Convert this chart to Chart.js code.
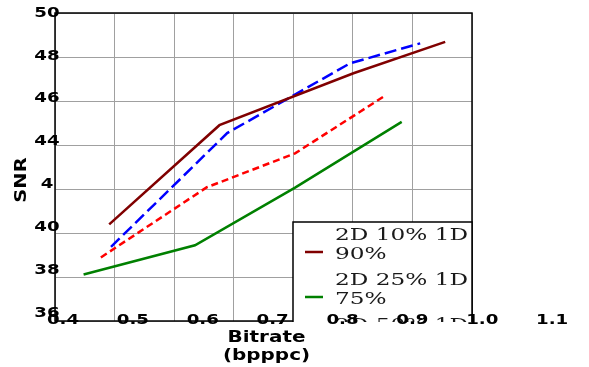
<!DOCTYPE html>
<html>
<head>
<meta charset="utf-8">
<script src="https://cdn.jsdelivr.net/npm/chart.js@4/dist/chart.umd.min.js"></script>
<style>
  html, body { margin: 0; padding: 0; background: #fff; }
  #c { display: block; }
</style>
</head>
<body>
<canvas id="c" width="589" height="367"></canvas>
<script>
// ---- data ----
const seriesLabels = ["2D 10% 1D 90%", "2D 25% 1D 75%", "2D 50% 1D 50%", "2D 75% 1D 25%"];
const darkRedX = [0.491, 0.676, 0.901, 1.055];
const darkRedY = [40.39, 44.90, 47.26, 48.69];
const greenX   = [0.448, 0.635, 0.803, 0.982];
const greenY   = [38.11, 39.44, 42.06, 45.05];
const blueX    = [0.494, 0.689, 0.895, 1.013];
const blueY    = [39.37, 44.54, 47.71, 48.62];
const redX     = [0.477, 0.655, 0.803, 0.954];
const redY     = [38.89, 42.08, 43.62, 46.24];

const xTicks = [0.4, 0.5, 0.6, 0.7, 0.8, 0.9, 1.0, 1.1];
const xTickLabels = ["0.4", "0.5", "0.6", "0.7", "0.8", "0.9", "1.0", "1.1"];
const yTicks = [50, 48, 46, 44, 42, 40, 38, 36];
const yTickLabels = ["50", "48", "46", "44", "4", "40", "38", "36"];
const xTitle = ["Bitrate", "(bpppc)"];
const yTitle = "SNR";

const pts = (xs, ys) => xs.map((x, i) => ({ x: x, y: ys[i] }));

function stretchText(ctx, text, x, y, font, sx, align, baseline, color) {
  ctx.save();
  ctx.translate(x, y);
  ctx.scale(sx, 1);
  ctx.font = font;
  ctx.fillStyle = color || '#000';
  ctx.textAlign = align;
  ctx.textBaseline = baseline;
  ctx.fillText(text, 0, 0);
  ctx.restore();
}

const framePlugin = {
  id: 'frame',
  beforeDatasetsDraw(chart) {
    const { ctx, chartArea: a } = chart;
    ctx.save();
    ctx.strokeStyle = '#000';
    ctx.lineWidth = 1.5;
    ctx.strokeRect(a.left, a.top, a.right - a.left, a.bottom - a.top);
    ctx.restore();
  },
  afterDraw(chart) {
    const { ctx, chartArea: a } = chart;
    const xs = chart.scales.x, ys = chart.scales.y;
    const tickFont = "bold 14px 'DejaVu Sans'";
    // legend (clipped by plot area)
    ctx.save();
    ctx.beginPath();
    ctx.rect(a.left, a.top, a.right - a.left + 1, a.bottom - a.top + 1);
    ctx.clip();
    const lx = a.right - 179, ly = a.top + 209;
    ctx.fillStyle = '#fff';
    ctx.fillRect(lx, ly, 179, 200);
    ctx.strokeStyle = '#000';
    ctx.lineWidth = 1.5;
    ctx.strokeRect(lx, ly, 179, 200);
    chart.data.datasets.forEach((ds, i) => {
      const cy = ly + 30 + i * 45;
      ctx.save();
      ctx.strokeStyle = ds.borderColor;
      ctx.lineWidth = 2.5;
      ctx.beginPath();
      ctx.moveTo(lx + 12, cy);
      ctx.lineTo(lx + 30, cy);
      ctx.stroke();
      ctx.restore();
      const lab = ds.label;
      const k = lab.lastIndexOf(' ');
      stretchText(ctx, lab.slice(0, k), lx + 42, cy - 12, "16px 'DejaVu Serif'", 1.45, 'left', 'alphabetic', '#1a1a1a');
      stretchText(ctx, lab.slice(k + 1), lx + 42, cy + 7, "16px 'DejaVu Serif'", 1.45, 'left', 'alphabetic', '#1a1a1a');
    });
    ctx.restore();

    // y tick labels
    yTicks.forEach((v, i) => {
      const py = a.top + (ys.getPixelForValue(v) - a.top) * 0.975;
      stretchText(ctx, yTickLabels[i], a.left - 8, py, tickFont, 1.3, 'center', 'middle');
    });
    // x tick labels
    xTicks.forEach((v, i) => {
      const px = a.left + 8 + (xs.getPixelForValue(v) - a.left) * 1.173;
      stretchText(ctx, xTickLabels[i], px, a.bottom - 1, tickFont, 1.3, 'center', 'middle');
    });
    // axis titles
    const titleFont = "bold 15px 'DejaVu Sans'";
    const cx = (a.left + a.right) / 2 + 3;
    stretchText(ctx, xTitle[0], cx, a.bottom + 17, titleFont, 1.33, 'center', 'middle');
    stretchText(ctx, xTitle[1], cx, a.bottom + 35, titleFont, 1.33, 'center', 'middle');
    ctx.save();
    ctx.translate(a.left - 33, 180);
    ctx.rotate(-Math.PI / 2);
    stretchText(ctx, yTitle, 0, 0, titleFont, 1.3, 'center', 'middle');
    ctx.restore();
  }
};

new Chart(document.getElementById('c'), {
  type: 'line',
  data: {
    datasets: [
      { label: seriesLabels[0], data: pts(darkRedX, darkRedY), borderColor: '#800000', borderWidth: 2.5 },
      { label: seriesLabels[1], data: pts(greenX, greenY), borderColor: '#008000', borderWidth: 2.5 },
      { label: seriesLabels[2], data: pts(blueX, blueY), borderColor: '#0000ff', borderWidth: 2.5, borderDash: [12, 5] },
      { label: seriesLabels[3], data: pts(redX, redY), borderColor: '#ff0000', borderWidth: 2.5, borderDash: [7, 4] }
    ]
  },
  options: {
    responsive: false,
    animation: false,
    layout: { padding: { left: 55, top: 13, right: 117, bottom: 46 } },
    elements: { point: { radius: 0 }, line: { tension: 0, borderCapStyle: 'butt' } },
    plugins: { legend: { display: false }, tooltip: { enabled: false } },
    scales: {
      x: {
        type: 'linear', min: 0.4, max: 1.1,
        afterBuildTicks: s => { s.ticks = xTicks.map(v => ({ value: v })); },
        ticks: { display: false },
        grid: { color: '#a0a0a0', lineWidth: 1, drawTicks: false },
        border: { display: false }
      },
      y: {
        type: 'linear', min: 36, max: 50,
        afterBuildTicks: s => { s.ticks = yTicks.map(v => ({ value: v })); },
        ticks: { display: false },
        grid: { color: '#a0a0a0', lineWidth: 1, drawTicks: false },
        border: { display: false }
      }
    }
  },
  plugins: [framePlugin]
});
</script>
</body>
</html>
